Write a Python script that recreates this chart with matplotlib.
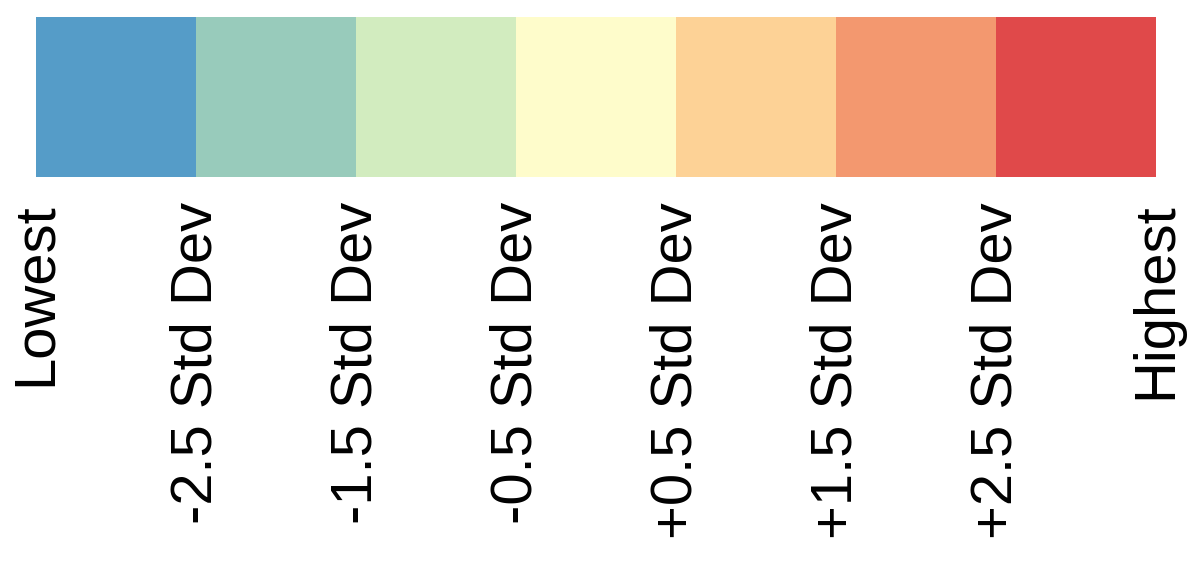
import matplotlib
matplotlib.use('Agg')
import matplotlib.pyplot as plt
from matplotlib.colors import ListedColormap, BoundaryNorm

# colores de cada clase (de menor a mayor)
colores = ['#559cc8', '#98cbbb', '#d2ecbf', '#fefccb', '#fdd296', '#f3986f', '#e0494a']
etiquetas = ['Lowest', '-2.5 Std Dev', '-1.5 Std Dev', '-0.5 Std Dev',
             '+0.5 Std Dev', '+1.5 Std Dev', '+2.5 Std Dev', 'Highest']
limites = list(range(len(etiquetas)))

plt.rcParams['font.family'] = ['Liberation Sans', 'DejaVu Sans']

fig = plt.figure(figsize=(12.01, 5.66), dpi=100)
ax = fig.add_axes([36/1201, (566-177)/566, 1120/1201, 160/566])

cmap = ListedColormap(colores)
norm = BoundaryNorm(limites, cmap.N)
ax.pcolormesh(limites, [0, 1], [list(range(len(colores)))], cmap=cmap,
              vmin=-0.5, vmax=len(colores)-0.5, shading='flat')
ax.set_xlim(limites[0], limites[-1])
ax.set_ylim(0, 1)
ax.set_yticks([])
ax.set_xticks([])
for s in ax.spines.values():
    s.set_visible(False)

for x, t in zip(limites, etiquetas):
    ax.annotate(t, xy=(x, 0), xycoords='data', xytext=(0, -18),
                textcoords='offset points', rotation=90,
                ha='center', va='top', fontsize=41.8)

fig.savefig('out.png', dpi=100)
